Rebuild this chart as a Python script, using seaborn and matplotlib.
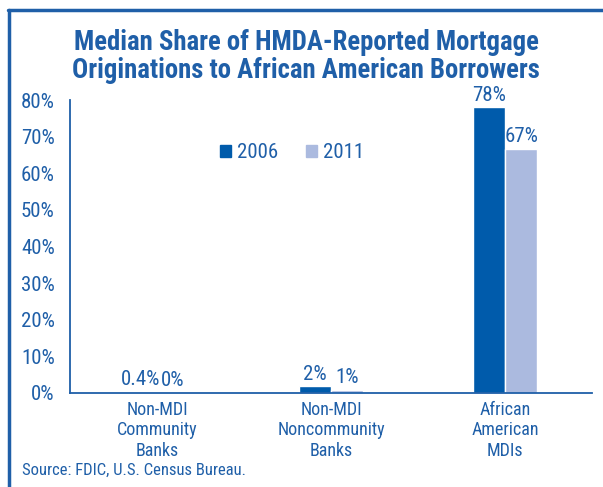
import matplotlib
matplotlib.use("Agg")
import matplotlib.pyplot as plt
import seaborn as sns
import pandas as pd
from matplotlib.lines import Line2D

# --- data ---
categories = ["Non-MDI\nCommunity\nBanks", "Non-MDI\nNoncommunity\nBanks", "African\nAmerican\nMDIs"]
years = ["2006", "2011"]
share_2006 = [0.4, 1.8, 78.0]
share_2011 = [0.0, 0.9, 66.7]
labels_2006 = ["0.4%", "2%", "78%"]
labels_2011 = ["0%", "1%", "67%"]
yticks = [0, 10, 20, 30, 40, 50, 60, 70, 80]

BLUE = "#1f5fa8"
colors = {"2006": "#005bab", "2011": "#abbadf"}

sns.set_style("white")
plt.rcParams["font.family"] = ["Roboto Condensed", "Archivo Narrow", "DejaVu Sans"]

df = pd.DataFrame({
    "category": categories * 2,
    "year": [years[0]] * 3 + [years[1]] * 3,
    "share": share_2006 + share_2011,
})

fig = plt.figure(figsize=(6.03, 4.87), dpi=100)
ax = fig.add_axes([70 / 603, 1 - 393 / 487, 522 / 603, 293 / 487])

sns.barplot(data=df, x="category", y="share", hue="year", palette=colors,
            width=0.37, saturation=1, ax=ax, legend=False)

# value labels
for cont, labs in zip(ax.containers, [labels_2006, labels_2011]):
    ax.bar_label(cont, labels=labs, padding=2, fontsize=15, color=BLUE)

ax.set_ylim(0, 80)
ax.set_xlim(-0.5, 2.5)
ax.set_yticks(yticks)
ax.set_yticklabels([f"{v}%" for v in yticks], fontsize=15, color=BLUE)
ax.set_xticks([-0.5, 0.5, 1.5, 2.5])
ax.set_xticklabels([])
ax.set_xticks([0, 1, 2], minor=True)
ax.set_xticklabels(categories, minor=True, fontsize=13, color=BLUE, linespacing=1.15)
ax.tick_params(axis="x", which="major", direction="out", length=6, color=BLUE, width=1.2)
ax.tick_params(axis="x", which="minor", length=0, pad=6)
ax.tick_params(axis="y", direction="out", length=5, color=BLUE, width=1.2, pad=6)
ax.set_xlabel("")
ax.set_ylabel("")
for side in ["top", "right"]:
    ax.spines[side].set_visible(False)
for side in ["left", "bottom"]:
    ax.spines[side].set_color(BLUE)
    ax.spines[side].set_linewidth(1.3)

# legend
handles = [plt.Rectangle((0, 0), 1, 1, color=colors[y]) for y in years]
leg = ax.legend(handles, years, loc="center", bbox_to_anchor=((292 - 70) / 522, (393 - 153) / 293),
                ncol=2, frameon=False, handlelength=0.55, handleheight=0.55, handletextpad=0.3,
                columnspacing=1.3, fontsize=15, borderpad=0)
for t in leg.get_texts():
    t.set_color(BLUE)

# title and source
fig.text(0.508, 1 - 42 / 487, "Median Share of HMDA-Reported Mortgage", ha="center", va="center",
         fontsize=19.3, fontweight="bold", color=BLUE)
fig.text(0.508, 1 - 70 / 487, "Originations to African American Borrowers", ha="center", va="center",
         fontsize=19.3, fontweight="bold", color=BLUE)
fig.text(22 / 603, 1 - 470 / 487, "Source: FDIC, U.S. Census Bureau.", ha="left", va="center",
         fontsize=12, color=BLUE)

# frame lines (left and top)
fig.add_artist(Line2D([9 / 603, 9 / 603], [0, 1 - 10 / 487], color=BLUE, lw=2.5,
                      transform=fig.transFigure))
fig.add_artist(Line2D([8 / 603, 1], [1 - 10 / 487, 1 - 10 / 487], color=BLUE, lw=2.5,
                      transform=fig.transFigure))

fig.savefig("out.png", dpi=100)
